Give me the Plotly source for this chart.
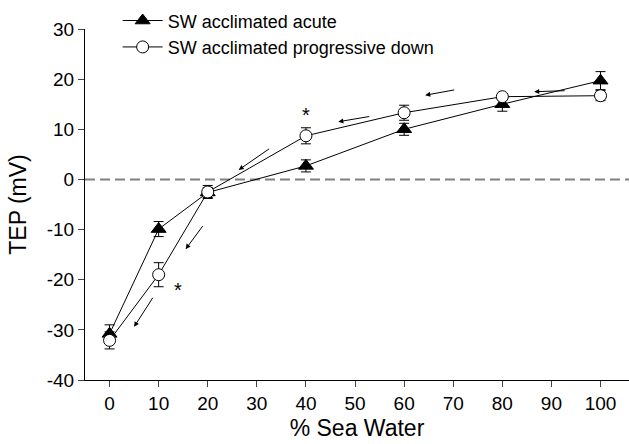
import plotly.graph_objects as go

# ---- data ----
sea_water = [0, 10, 20, 40, 60, 80, 100]
acute_tep = [-30.8, -9.9, -2.6, 2.7, 10.0, 15.0, 19.7]
acute_err = [1.8, 1.5, 1.0, 1.2, 1.2, 1.4, 1.8]
prog_tep = [-32.1, -19.0, -2.5, 8.7, 13.3, 16.5, 16.7]
prog_err = [1.7, 2.4, 1.3, 1.6, 1.5, 0.6, 1.0]

arrow_tail_x = [93.0, 70.5, 53.2, 32.8, 19.2, 9.0]
arrow_tail_y = [17.7, 17.9, 12.6, 6.3, -9.0, -23.3]
arrow_head_x = [86.5, 64.3, 46.6, 26.3, 15.5, 5.0]
arrow_head_y = [17.5, 16.8, 11.5, 1.9, -13.9, -29.4]

star_x = [40, 14]
star_y = [12.8, -22.0]

x_ticks = [0, 10, 20, 30, 40, 50, 60, 70, 80, 90, 100]
y_ticks = [-40, -30, -20, -10, 0, 10, 20, 30]
y_tick_labels = ["-40", "-30", "-20", "-10", "0", "10", "20", "30"]

FONT = "Liberation Sans, Arial, sans-serif"

fig = go.Figure()
fig.add_trace(go.Scatter(
    x=sea_water, y=acute_tep, name="SW acclimated acute",
    mode="lines+markers",
    line=dict(color="black", width=1),
    marker=dict(symbol="triangle-up", size=13, color="black",
                line=dict(color="black", width=1)),
    error_y=dict(type="data", array=acute_err, visible=True,
                 color="black", thickness=1, width=5),
))
fig.add_trace(go.Scatter(
    x=sea_water, y=prog_tep, name="SW acclimated progressive down",
    mode="lines+markers",
    line=dict(color="black", width=1),
    marker=dict(symbol="circle", size=12, color="white",
                line=dict(color="black", width=1)),
    error_y=dict(type="data", array=prog_err, visible=True,
                 color="black", thickness=1, width=5),
))

fig.add_hline(y=0, line=dict(color="#808080", width=2, dash="10px,5px"),
              layer="below")

for tx, ty, hx, hy in zip(arrow_tail_x, arrow_tail_y, arrow_head_x, arrow_head_y):
    fig.add_annotation(x=hx, y=hy, ax=tx, ay=ty, xref="x", yref="y",
                       axref="x", ayref="y", text="", showarrow=True,
                       arrowhead=2, arrowsize=1, arrowwidth=1,
                       arrowcolor="black", standoff=0)

for sx, sy in zip(star_x, star_y):
    fig.add_annotation(x=sx, y=sy, xref="x", yref="y", text="*",
                       showarrow=False, font=dict(size=20, color="black", family=FONT))

fig.update_layout(
    width=629, height=444,
    margin=dict(l=85, r=0, t=29, b=64, autoexpand=False),
    paper_bgcolor="white", plot_bgcolor="white",
    font=dict(family=FONT, size=19, color="black"),
    showlegend=True,
    legend=dict(x=0.06, y=1.076, xanchor="left", yanchor="top",
                bgcolor="rgba(0,0,0,0)", font=dict(size=18),
                tracegroupgap=0, itemwidth=40),
)
fig.update_xaxes(
    range=[-5, 105.8], tickvals=x_ticks, ticks="outside", ticklen=6,
    showline=True, linecolor="black", linewidth=1, showgrid=False,
    zeroline=False, automargin=False,
    title=dict(text="% Sea Water", standoff=7),
)
fig.update_yaxes(
    range=[-40, 30], tickvals=y_ticks, ticktext=y_tick_labels,
    ticks="outside", ticklen=6,
    showline=True, linecolor="black", linewidth=1, showgrid=False,
    zeroline=False, automargin=False,
    title=dict(text="TEP (mV)", standoff=13),
)

fig.write_html("out.html",
               config={"displayModeBar": False},
               post_script="document.body.style.margin='0';document.body.style.overflow='hidden';")
